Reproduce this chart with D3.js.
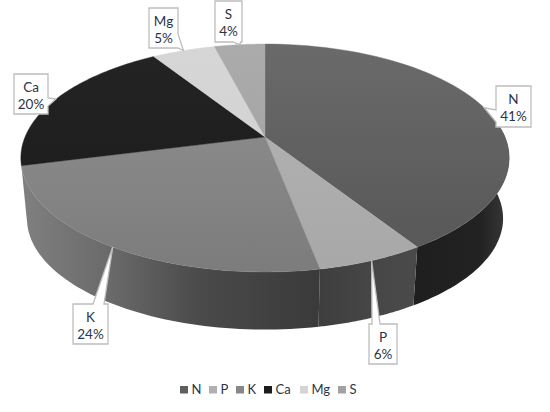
<!DOCTYPE html>
<html><head><meta charset="utf-8">
<script src="https://cdn.jsdelivr.net/npm/d3@7"></script>
<style>html,body{margin:0;padding:0;background:#fff}svg{display:block}text{font-family:Lato,"Open Sans",sans-serif;fill:#2a3548}</style>
</head><body><svg id="c" width="550" height="412"></svg>
<script>
const categories=["N","P","K","Ca","Mg","S"];
const values=[41,6,24,20,5,4];
const labels=["41%","6%","24%","20%","5%","4%"];
const topLight=["#6a6a6a","#b4b4b4","#929292","#242424","#d6d6d6","#ababab"];
const topDark=["#565656","#a8a8a8","#7c7c7c","#191919","#cfcfcf","#a0a0a0"];
const legendColor=["#5f5f5f","#b0b0b0","#878787","#1d1d1d","#d4d4d4","#a2a2a2"];
const legendX=[180,209,236,264,300,338];
// label box: [x0,y0,x1,y1], side carrying the leader, base start, base end
const boxes=[[496,86,531,127,"left",110,122],[369,324,397,364,"top",372,380],[73,304,108,344,"top",93,104],[14,74,48,114,"right",98,106],[149,8,178,48,"right",34,48],[215,1,242,42,"bottom",233,241]];

const svg=d3.select("#c");
const cx=265,cy=137,c=0.1842,a=240,b=110.1,depth=61,shrink=0.975;
const project=(t,s=1,dy=0)=>{const u=Math.sin(t),v=-Math.cos(t),w=1-c*v;return [cx+s*a*u/w,cy+dy+s*b*v/w];};
const pie=d3.pie().sort(null)(values);
const line=d3.line();
const arcPts=(t0,t1,s=1,dy=0)=>d3.range(0,61).map(i=>project(t0+(t1-t0)*i/60,s,dy));
const defs=svg.append("defs");

// wall gradient
const wall=[{id:"w0",stops:[[409,"#1e1e1e"],[480,"#222222"],[503,"#343434"]],x0:409,x1:509,t:[pie[0].startAngle,pie[0].endAngle]},
{id:"w1",stops:[[318,"#3e3e3e"],[370,"#464646"],[412,"#4a4a4a"]],x0:318,x1:412,t:[pie[1].startAngle,pie[1].endAngle]},
{id:"w2",stops:[[21,"#808080"],[110,"#6a6a6a"],[200,"#4a4a4a"],[320,"#3a3a3a"]],x0:21,x1:320,t:[pie[2].startAngle,pie[2].endAngle]}];
wall.forEach(w=>{
  const g=defs.append("linearGradient").attr("id",w.id).attr("gradientUnits","userSpaceOnUse").attr("x1",w.x0).attr("x2",w.x1).attr("y1",0).attr("y2",0);
  w.stops.forEach(s=>g.append("stop").attr("offset",(s[0]-w.x0)/(w.x1-w.x0)).attr("stop-color",s[1]));
});
pie.forEach((d,i)=>{
  const g=defs.append("linearGradient").attr("id","t"+i).attr("gradientUnits","userSpaceOnUse").attr("x1",0).attr("x2",0).attr("y1",44).attr("y2",272);
  g.append("stop").attr("offset",0).attr("stop-color",topLight[i]);
  g.append("stop").attr("offset",1).attr("stop-color",topDark[i]);
});
// side walls: front portion of each visible slice
const wallSpan=[[Math.PI/2-0.05,pie[0].endAngle],[pie[1].startAngle,pie[1].endAngle],[pie[2].startAngle,pie[2].endAngle]];
wall.forEach((w,i)=>{
  const [t0,t1]=wallSpan[i];
  const pts=arcPts(t0,t1).concat(arcPts(t0,t1,shrink,depth).reverse());
  svg.append("path").attr("d",line(pts)+"Z").attr("fill",`url(#${w.id})`);
});
// top face
pie.forEach((d,i)=>{
  const pts=[[cx,cy]].concat(arcPts(d.startAngle,d.endAngle));
  svg.append("path").attr("d",line(pts)+"Z").attr("fill",`url(#t${i})`).attr("stroke",`url(#t${i})`).attr("stroke-width",0.4);
});
// callouts
pie.forEach((d,i)=>{
  const [x0,y0,x1,y1,side,p,q]=boxes[i];
  const tip=project((d.startAngle+d.endAngle)/2);
  let pts;
  if(side==="left") pts=[[x0,y0],[x1,y0],[x1,y1],[x0,y1],[x0,q],tip,[x0,p]];
  if(side==="right") pts=[[x0,y0],[x1,y0],[x1,p],tip,[x1,q],[x1,y1],[x0,y1]];
  if(side==="top") pts=[[x0,y0],[p,y0],tip,[q,y0],[x1,y0],[x1,y1],[x0,y1]];
  if(side==="bottom") pts=[[x0,y0],[x1,y0],[x1,y1],[q,y1],tip,[p,y1],[x0,y1]];
  svg.append("path").attr("d",line(pts)+"Z").attr("fill","#fff").attr("stroke","#bdbdbd").attr("stroke-width",1.3);
  const mx=(x0+x1)/2;
  svg.append("text").attr("x",mx).attr("y",y0+18).attr("text-anchor","middle").attr("font-size",13.5).text(categories[i]);
  svg.append("text").attr("x",mx).attr("y",y0+35).attr("text-anchor","middle").attr("font-size",13.5).text(labels[i]);
});
// legend
categories.forEach((n,i)=>{
  svg.append("rect").attr("x",legendX[i]).attr("y",386).attr("width",8).attr("height",7.5).attr("fill",legendColor[i]);
  svg.append("text").attr("x",legendX[i]+11.5).attr("y",394).attr("font-size",13).text(n);
});
</script></body></html>
